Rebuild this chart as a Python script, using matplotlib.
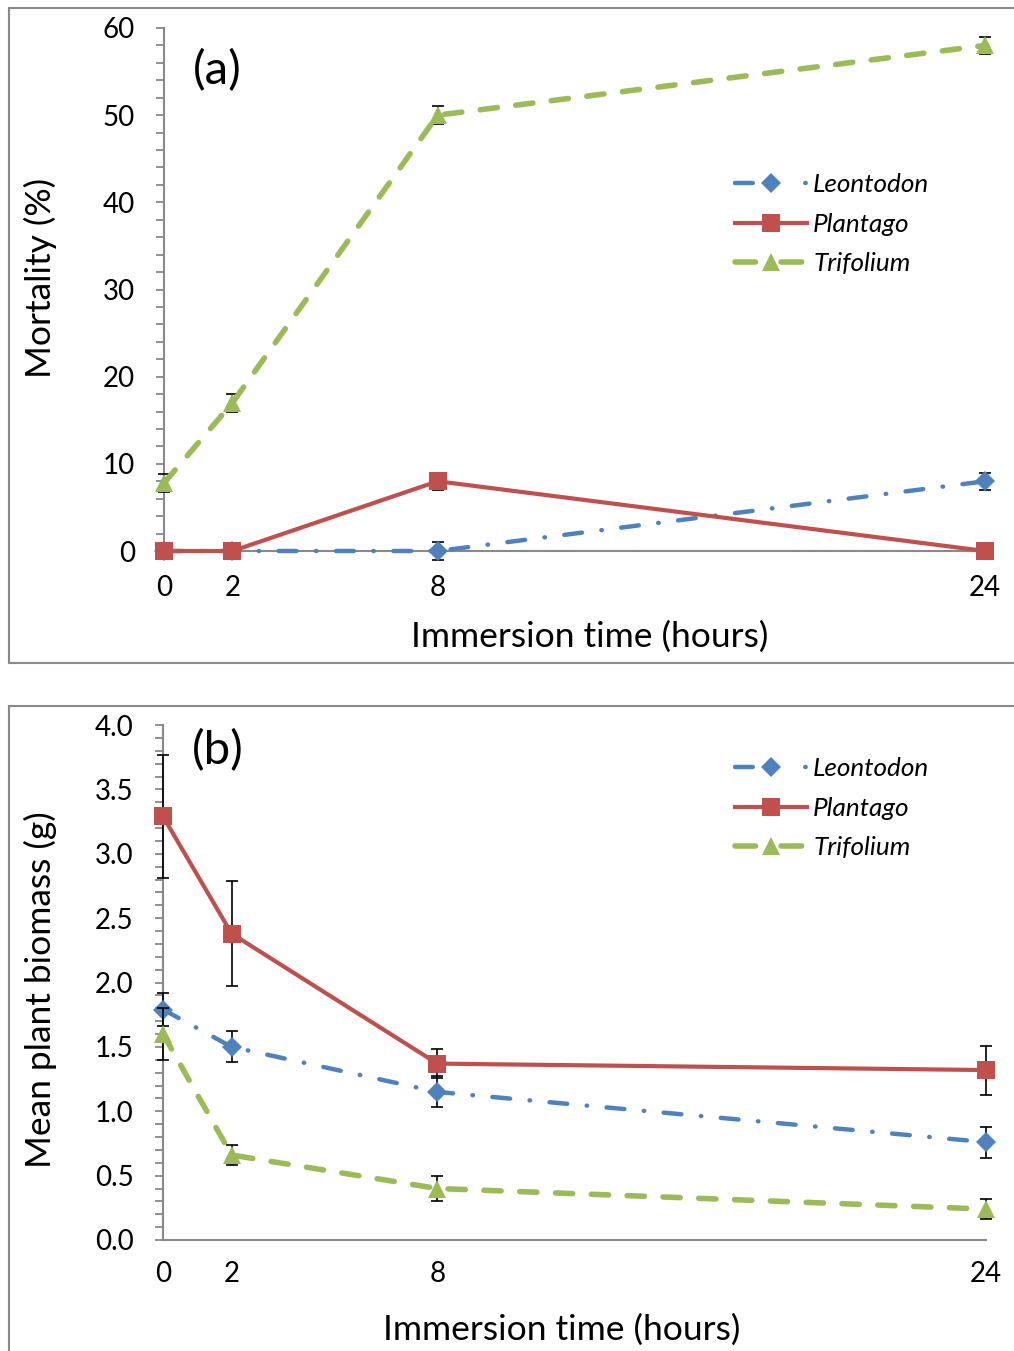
import matplotlib
matplotlib.use("Agg")
import matplotlib.pyplot as plt
from matplotlib.lines import Line2D
from matplotlib.ticker import MultipleLocator, FixedLocator

plt.rcParams['font.family'] = ['Lato', 'DejaVu Sans']

# ---------------- data ----------------
hours = [0, 2, 8, 24]
hour_labels = ['0', '2', '8', '24']
species = ['Leontodon', 'Plantago', 'Trifolium']

mort_leontodon = [0, 0, 0, 8]
mort_leontodon_err = [0, 0, 1, 1]
mort_plantago = [0, 0, 8, 0]
mort_plantago_err = [0, 0, 1, 0]
mort_trifolium = [7.8, 17, 50, 58]
mort_trifolium_err = [1, 1, 1, 1]

bio_leontodon = [1.79, 1.50, 1.15, 0.76]
bio_leontodon_err = [0.13, 0.12, 0.12, 0.12]
bio_plantago = [3.29, 2.38, 1.37, 1.32]
bio_plantago_err = [0.48, 0.41, 0.11, 0.19]
bio_trifolium = [1.60, 0.66, 0.40, 0.24]
bio_trifolium_err = [0.20, 0.08, 0.10, 0.08]

# ---------------- styling ----------------
W, H = 1014, 1351
DPI = 100
fig = plt.figure(figsize=(W / DPI, H / DPI), dpi=DPI)

def fx(px):
    return px / W

def fy(py):
    return 1 - py / H

GRAY = '#898989'
colors = {'Leontodon': '#4F81BD', 'Plantago': '#C0504D', 'Trifolium': '#9BBB59'}
markers = {'Leontodon': 'D', 'Plantago': 's', 'Trifolium': '^'}
msizes = {'Leontodon': 10.5, 'Plantago': 13, 'Trifolium': 13.5}
lws = {'Leontodon': 3.2, 'Plantago': 3.0, 'Trifolium': 4.0}
dashes = {'Leontodon': (4.0, 4.4, 0.1, 4.4), 'Plantago': None, 'Trifolium': (3.1, 3.35)}
legend_dashes = {'Leontodon': (4.0, 11.8, 0.1, 10), 'Plantago': None, 'Trifolium': (3.7, 4.6, 3.7, 10)}
LABEL_FS = 25.5
TICK_FS = 20

# panel frames
frame_kw = dict(color=GRAY, lw=1.5, transform=fig.transFigure)
fig.add_artist(Line2D([fx(9), fx(W)], [fy(8), fy(8)], **frame_kw))
fig.add_artist(Line2D([fx(9), fx(9)], [fy(8), fy(663)], **frame_kw))
fig.add_artist(Line2D([fx(9), fx(W)], [fy(663), fy(663)], **frame_kw))
fig.add_artist(Line2D([fx(9), fx(W)], [fy(706), fy(706)], **frame_kw))
fig.add_artist(Line2D([fx(9), fx(9)], [fy(706), fy(H)], **frame_kw))


def make_axes(x0, x1, ytop, ybot):
    return fig.add_axes([fx(x0), fy(ybot), fx(x1) - fx(x0), fy(ytop) - fy(ybot)])


def style_axes(ax, ymax, major, minor, fmt, xpad):
    ax.set_xlim(0, 24)
    ax.set_ylim(0, ymax)
    for s in ['top', 'right']:
        ax.spines[s].set_visible(False)
    for s in ['left', 'bottom']:
        ax.spines[s].set_color(GRAY)
        ax.spines[s].set_linewidth(1.5)
    ax.xaxis.set_major_locator(FixedLocator(hours))
    ax.set_xticklabels(hour_labels)
    ax.tick_params(axis='x', length=0, pad=xpad, labelsize=TICK_FS)
    ax.yaxis.set_major_locator(MultipleLocator(major))
    ax.yaxis.set_minor_locator(MultipleLocator(minor))
    ax.yaxis.set_major_formatter(matplotlib.ticker.FormatStrFormatter(fmt))
    ax.tick_params(axis='y', which='both', direction='out', length=6, width=1.3,
                   color=GRAY, labelsize=TICK_FS, pad=15)
    ax.patch.set_alpha(0)


def plot_series(ax, series, errs):
    for i, sp in enumerate(species):
        ax.errorbar(hours, series[sp], yerr=errs[sp], fmt='none', ecolor='black',
                    elinewidth=1.2, capsize=4, capthick=1.2, zorder=3 + 2 * i,
                    clip_on=False)
        ls = '-' if dashes[sp] is None else (0, dashes[sp])
        ax.plot(hours, series[sp], color=colors[sp], lw=lws[sp], linestyle=ls,
                dash_capstyle='round', marker=markers[sp], markersize=msizes[sp],
                markeredgewidth=0, label=sp, zorder=4 + 2 * i, clip_on=False)


def add_legend(ax, x, y):
    leg = ax.legend(loc='upper left', bbox_to_anchor=(fx(x), fy(y)),
                    bbox_transform=fig.transFigure, frameon=False,
                    borderpad=0, borderaxespad=0, handlelength=2.76,
                    handletextpad=0.23, labelspacing=0.64, numpoints=1,
                    prop={'style': 'italic', 'size': 18.8})
    for line, sp in zip(leg.get_lines(), species):
        if legend_dashes[sp] is not None:
            line.set_linestyle((0, legend_dashes[sp]))
    return leg


# ---------------- panel (a) ----------------
ax1 = make_axes(164, 985, 28, 551)
style_axes(ax1, 60, 10, 2, '%d', 17)
plot_series(ax1,
            {'Leontodon': mort_leontodon, 'Plantago': mort_plantago, 'Trifolium': mort_trifolium},
            {'Leontodon': mort_leontodon_err, 'Plantago': mort_plantago_err, 'Trifolium': mort_trifolium_err})
add_legend(ax1, 735, 173)
ax1.text(0.035, 0.918, '(a)', transform=ax1.transAxes, fontsize=34, va='center', ha='left')

fig.text(fx(40), fy(278), 'Mortality (%)', rotation=90, fontsize=LABEL_FS, ha='center', va='center')
fig.text(fx(590), fy(637), 'Immersion time (hours)', fontsize=LABEL_FS, ha='center', va='center')

# ---------------- panel (b) ----------------
ax2 = make_axes(163, 986, 725, 1240)
style_axes(ax2, 4.0, 0.5, 0.1, '%.1f', 15)
plot_series(ax2,
            {'Leontodon': bio_leontodon, 'Plantago': bio_plantago, 'Trifolium': bio_trifolium},
            {'Leontodon': bio_leontodon_err, 'Plantago': bio_plantago_err, 'Trifolium': bio_trifolium_err})
add_legend(ax2, 735, 757)
ax2.text(0.035, 0.95, '(b)', transform=ax2.transAxes, fontsize=34, va='center', ha='left')

fig.text(fx(40), fy(990), 'Mean plant biomass (g)', rotation=90, fontsize=LABEL_FS, ha='center', va='center')
fig.text(fx(562), fy(1330), 'Immersion time (hours)', fontsize=LABEL_FS, ha='center', va='center')

fig.savefig('out.png', dpi=DPI)
